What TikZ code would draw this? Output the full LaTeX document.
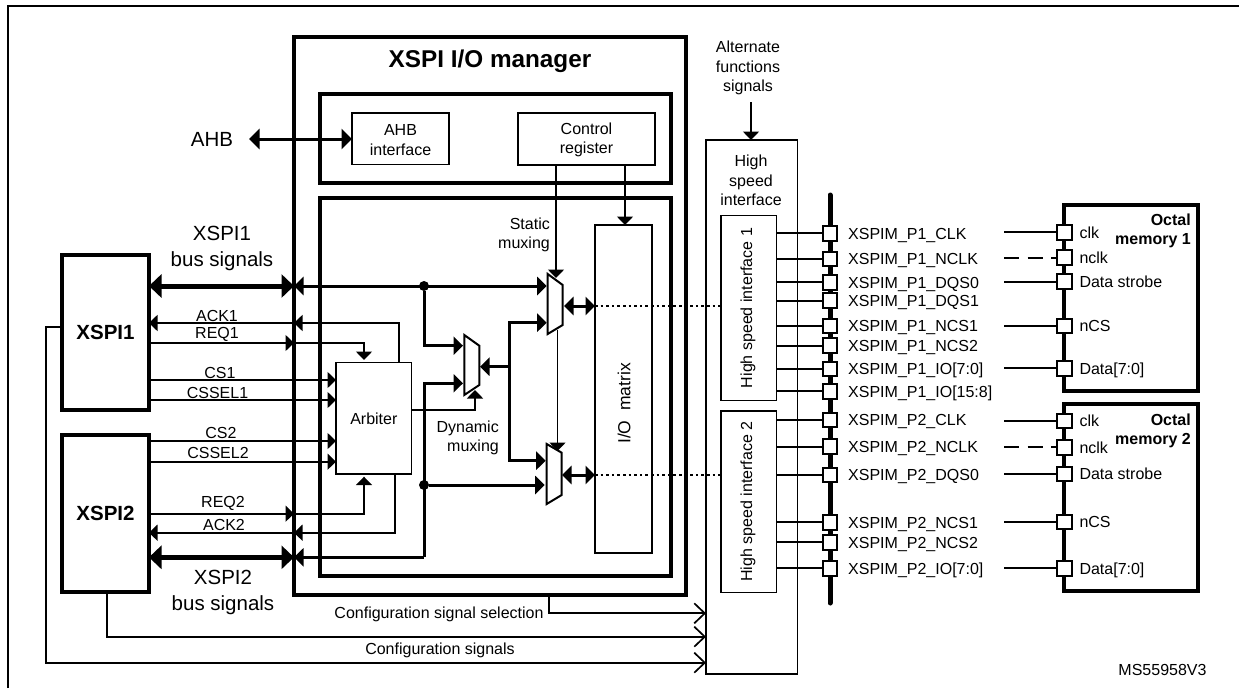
\documentclass[tikz,border=0pt]{standalone}
\usepackage{fontspec}
\setmainfont{Liberation Sans}
\usetikzlibrary{arrows.meta}

\tikzset{
  txt/.style={inner sep=0pt, font=\fontsize{16}{19.4}\selectfont, align=center},
  pintxt/.style={txt, anchor=west, text height=11.5pt, text depth=0pt},
  bigtxt/.style={inner sep=0pt, font=\fontsize{20.5}{25.5}\selectfont, align=center},
  thinbox/.style={draw, line width=1.5pt, inner sep=0pt, outer sep=0pt, rectangle},
  thickbox/.style={draw, line width=4pt, inner sep=0pt, outer sep=0pt, rectangle},
  pin/.style={draw, fill=white, line width=2pt, inner sep=0pt, outer sep=0pt, minimum size=14.5pt, rectangle},
  dot/.style={fill=black, circle, inner sep=0pt, outer sep=0pt, minimum size=10pt},
  wire/.style={line width=1.7pt},
  sig/.style={wire, ->, >={Triangle[length=8.5pt,width=16pt]}},
  med/.style={line width=3pt, ->, >={Triangle[length=9.5pt,width=18pt]}},
  bus/.style={line width=5pt, <->, >={Triangle[length=12.5pt,width=23pt]}},
  ahbarrow/.style={line width=3pt, <->, >={Triangle[length=10.5pt,width=20pt]}},
  cfg/.style={wire, ->, >={Straight Barb[length=10.5pt,width=20pt,line width=1.7pt]}},
  dots/.style={line width=1.8pt, dash pattern=on 2.6pt off 3pt}
}

\begin{document}
\begin{tikzpicture}[x=1pt,y=-1pt]
\useasboundingbox (0,0) rectangle (1239,688);

% ---------- Frame ----------
\coordinate (FrameLow) at (8,688);
\coordinate (FrameCnr) at (8,6);
\coordinate (FrameEnd) at (1239,6);
\draw[line width=2pt] (FrameLow) -- (FrameCnr) -- (FrameEnd);

% ---------- XSPI blocks ----------
\node[thickbox, minimum width=87pt, minimum height=155pt, font=\bfseries\fontsize{20.5}{25}\selectfont] (XspiOne) at (105.5,332.5) {XSPI1};
\node[thickbox, minimum width=87pt, minimum height=157pt, font=\bfseries\fontsize{20.5}{25}\selectfont] (XspiTwo) at (105.5,513.5) {XSPI2};

% ---------- Manager ----------
\node[thickbox, minimum width=391.7pt, minimum height=558pt] (Manager) at (489.85,316) {};
\node[inner sep=0pt, font=\bfseries\fontsize{24.3}{28}\selectfont] (ManagerTxt) at (490,61) {XSPI I/O manager};
\node[thickbox, minimum width=351pt, minimum height=89pt] (UpperBox) at (495.5,138.5) {};
\node[thickbox, minimum width=351pt, minimum height=378pt] (LowerBox) at (495.5,387) {};

\node[thinbox, minimum width=97pt, minimum height=51.5pt] (AhbIf) at (400.5,138.75) {};
\node[txt] (AhbIfTxt) at (400.5,140) {AHB\\interface};
\node[thinbox, minimum width=137pt, minimum height=52pt] (Control) at (586.5,139) {};
\node[txt] (ControlTxt) at (586.5,140) {Control\\register};
\node[thinbox, txt, minimum width=75.7pt, minimum height=111.3pt] (Arbiter) at (373.85,418.35) {Arbiter};
\node[thinbox, minimum width=57pt, minimum height=328pt] (IoMatrix) at (623.5,389) {};
\node[txt, font=\fontsize{17.5}{21}\selectfont, rotate=90] (IoMatrixTxt) at (624,403.5) {I/O\ \ matrix};

% ---------- AHB ----------
\node[inner sep=0pt, font=\fontsize{20.5}{25}\selectfont] (AhbTxt) at (212,139) {AHB};
\coordinate (AhbEnd) at (249,139);
\draw[ahbarrow] (AhbEnd) -- (AhbIf.west |- AhbEnd);

% ---------- Bus signals ----------
\node[bigtxt] (BusOneTxt) at (222,248.5) {XSPI1\\bus signals};
\node[bigtxt] (BusTwoTxt) at (223,592.5) {XSPI2\\bus signals};
\coordinate (BusOneY) at (0,286);
\coordinate (BusTwoCnr) at (424,557.3);
\draw[bus] (XspiOne.east |- BusOneY) -- (Manager.west |- BusOneY);
\draw[bus] (XspiTwo.east |- BusTwoCnr) -- (Manager.west |- BusTwoCnr);

% ---------- Arbiter signals ----------
\node[txt] (AckOneTxt) at (217,316) {ACK1};
\node[txt] (ReqOneTxt) at (217,334) {REQ1};
\node[txt] (CsOneTxt) at (220,373) {CS1};
\node[txt] (CsselOneTxt) at (217.5,393) {CSSEL1};
\node[txt] (CsTwoTxt) at (221,433) {CS2};
\node[txt] (CsselTwoTxt) at (218,453) {CSSEL2};
\node[txt] (ReqTwoTxt) at (223,503) {REQ2};
\node[txt] (AckTwoTxt) at (224,525) {ACK2};

\coordinate (AckOneCnr) at (399,323);
\coordinate (ReqOneCnr) at (364,343);
\coordinate (CsOneY) at (0,380);
\coordinate (CsselOneY) at (0,400);
\coordinate (CsTwoY) at (0,441);
\coordinate (CsselTwoY) at (0,461.7);
\coordinate (ReqTwoCnr) at (364,513.7);
\coordinate (AckTwoCnr) at (395,532.7);
\coordinate (ReqOneTip) at (364,360);
\coordinate (ReqTwoTip) at (364,476.7);

\draw[sig] (Arbiter.north -| AckOneCnr) -- (AckOneCnr) -- (Manager.west |- AckOneCnr);
\draw[sig] (Manager.west |- AckOneCnr) -- (XspiOne.east |- AckOneCnr);
\draw[sig] (XspiOne.east |- ReqOneCnr) -- (Manager.west |- ReqOneCnr);
\draw[sig] (Manager.west |- ReqOneCnr) -- (ReqOneCnr) -- (ReqOneTip);
\draw[sig] (XspiOne.east |- CsOneY) -- (Arbiter.west |- CsOneY);
\draw[sig] (XspiOne.east |- CsselOneY) -- (Arbiter.west |- CsselOneY);
\draw[sig] (XspiTwo.east |- CsTwoY) -- (Arbiter.west |- CsTwoY);
\draw[sig] (XspiTwo.east |- CsselTwoY) -- (Arbiter.west |- CsselTwoY);
\draw[sig] (XspiTwo.east |- ReqTwoCnr) -- (Manager.west |- ReqTwoCnr);
\draw[sig] (Manager.west |- ReqTwoCnr) -- (ReqTwoCnr) -- (ReqTwoTip);
\draw[sig] (Arbiter.south -| AckTwoCnr) -- (AckTwoCnr) -- (Manager.west |- AckTwoCnr);
\draw[sig] (Manager.west |- AckTwoCnr) -- (XspiTwo.east |- AckTwoCnr);

% ---------- Muxes ----------
\coordinate (MuxOneA) at (547.7,274);
\coordinate (MuxOneB) at (562.7,285);
\coordinate (MuxOneC) at (562.7,325);
\coordinate (MuxOneD) at (547.7,334);
\draw[line width=2pt] (MuxOneA) -- (MuxOneB) -- (MuxOneC) -- (MuxOneD) -- cycle;

\coordinate (MuxDynA) at (464.3,335);
\coordinate (MuxDynB) at (479.3,345.7);
\coordinate (MuxDynC) at (479.3,385);
\coordinate (MuxDynD) at (464.3,395);
\draw[line width=2pt] (MuxDynA) -- (MuxDynB) -- (MuxDynC) -- (MuxDynD) -- cycle;

\coordinate (MuxTwoA) at (546.7,444);
\coordinate (MuxTwoB) at (561.7,452.7);
\coordinate (MuxTwoC) at (561.7,495);
\coordinate (MuxTwoD) at (546.7,504);
\draw[line width=2pt] (MuxTwoA) -- (MuxTwoB) -- (MuxTwoC) -- (MuxTwoD) -- cycle;

\node[txt, align=right, anchor=east] (StaticTxt) at (550,235) {Static\\muxing};
\node[txt, align=right, anchor=east] (DynamicTxt) at (499,438) {Dynamic\\muxing};

% ---------- Mux wiring ----------
\node[dot] (JunOne) at (424,286) {};
\node[dot] (JunTwo) at (424,485) {};
\coordinate (MuxOneIn) at (546.7,286);
\coordinate (MuxOneInB) at (546.7,322.7);
\coordinate (MuxDynIn) at (463,345.7);
\coordinate (MuxDynInB) at (463,383.3);
\coordinate (MuxDynOut) at (480,366.7);
\coordinate (SplitCnr) at (509.3,366.7);
\coordinate (MuxTwoIn) at (545.7,460.7);
\coordinate (MuxTwoInB) at (544.7,485);
\coordinate (MuxDynSel) at (475,390);
\coordinate (DynCnr) at (475,410);
\coordinate (MuxOneSel) at (556,278);
\coordinate (MuxOneLow) at (557.5,330);
\coordinate (MuxTwoSel) at (557.5,451);
\coordinate (IoSel) at (625,225);

\draw[med, <->] (Manager.west |- JunOne) -- (MuxOneIn);
\draw[med, <-] (Manager.west |- BusTwoCnr) -- (BusTwoCnr);
\draw[med] (JunOne) |- (MuxDynIn);
\draw[med] (BusTwoCnr) |- (MuxDynInB);
\draw[med] (JunTwo) -- (MuxTwoInB);
\draw[med] (SplitCnr) -- (MuxDynOut);
\draw[med] (SplitCnr) |- (MuxOneInB);
\draw[med] (SplitCnr) |- (MuxTwoIn);
\draw[sig] (Arbiter.east |- DynCnr) -- (DynCnr) -- (MuxDynSel);
\draw[sig] (Control.south -| MuxOneSel) -- (MuxOneSel);
\draw[sig] (Control.south -| IoSel) -- (IoSel);
\draw[sig] (MuxOneLow) -- (MuxTwoSel);

% ---------- I/O matrix links ----------
\coordinate (MuxOneOut) at (564,306);
\coordinate (MuxTwoOut) at (562,475);
\draw[med, <->] (MuxOneOut) -- (IoMatrix.west |- MuxOneOut);
\draw[med, <->] (MuxTwoOut) -- (IoMatrix.west |- MuxTwoOut);

% ---------- High speed interface ----------
\node[thinbox, minimum width=91.7pt, minimum height=534pt] (Hss) at (751.85,407) {};
\node[txt] (HssTxt) at (751,180.5) {High\\speed\\interface};
\node[thinbox, minimum width=55.7pt, minimum height=185pt] (HsiOne) at (748.85,308.2) {};
\node[thinbox, minimum width=55.7pt, minimum height=181.7pt] (HsiTwo) at (748.85,501.85) {};
\node[txt, rotate=90] (HsiOneTxt) at (748,308) {High speed interface 1};
\node[txt, rotate=90] (HsiTwoTxt) at (748,501.5) {High speed interface 2};
\draw[dots] (IoMatrix.west |- MuxOneOut) -- (HsiOne.west |- MuxOneOut);
\draw[dots] (IoMatrix.west |- MuxTwoOut) -- (HsiTwo.west |- MuxTwoOut);

\node[txt] (AltTxt) at (748,68) {Alternate\\functions\\signals};
\coordinate (AltTop) at (751,102);
\draw[sig] (AltTop) -- (Hss.north -| AltTop);

% ---------- Configuration ----------
\coordinate (CfgSelCnr) at (548.7,613.3);
\coordinate (CfgTwoCnr) at (107,636.7);
\coordinate (CfgOneCnr) at (46,327);
\coordinate (CfgOneLow) at (46,662.7);
\draw[cfg] (Manager.south -| CfgSelCnr) -- (CfgSelCnr) -- (Hss.west |- CfgSelCnr);
\draw[cfg] (XspiTwo.south -| CfgTwoCnr) -- (CfgTwoCnr) -- (Hss.west |- CfgTwoCnr);
\draw[cfg] (XspiOne.west |- CfgOneCnr) -- (CfgOneCnr) -- (CfgOneLow) -- (Hss.west |- CfgOneLow);
\node[txt] (CfgSelTxt) at (439,614) {Configuration signal selection};
\node[txt] (CfgTxt) at (440,650) {Configuration signals};

% ---------- Pad bus ----------
\coordinate (PadTop) at (830,195);
\coordinate (PadLow) at (830,603);
\draw[line width=5pt, line cap=round] (PadTop) -- (PadLow);

% ---------- Port 1 pads ----------
\node[pin] (PadOneClk) at (830,233.3) {};
\node[pin] (PadOneNclk) at (830,259) {};
\node[pin] (PadOneDqsA) at (830,282.3) {};
\node[pin] (PadOneDqsB) at (830,300.7) {};
\node[pin] (PadOneNcsA) at (830,326) {};
\node[pin] (PadOneNcsB) at (830,345.7) {};
\node[pin] (PadOneIoA) at (830,369) {};
\node[pin] (PadOneIoB) at (830,391.3) {};

\draw[wire] (HsiOne.east |- PadOneClk) -- (PadOneClk);
\draw[wire] (HsiOne.east |- PadOneNclk) -- (PadOneNclk);
\draw[wire] (HsiOne.east |- PadOneDqsA) -- (PadOneDqsA);
\draw[wire] (HsiOne.east |- PadOneDqsB) -- (PadOneDqsB);
\draw[wire] (HsiOne.east |- PadOneNcsA) -- (PadOneNcsA);
\draw[wire] (HsiOne.east |- PadOneNcsB) -- (PadOneNcsB);
\draw[wire] (HsiOne.east |- PadOneIoA) -- (PadOneIoA);
\draw[wire] (HsiOne.east |- PadOneIoB) -- (PadOneIoB);

\node[pintxt] (PadOneClkTxt) at (848,233.3) {XSPIM\_P1\_CLK};
\node[pintxt] (PadOneNclkTxt) at (848,259) {XSPIM\_P1\_NCLK};
\node[pintxt] (PadOneDqsATxt) at (848,282.3) {XSPIM\_P1\_DQS0};
\node[pintxt] (PadOneDqsBTxt) at (848,300.7) {XSPIM\_P1\_DQS1};
\node[pintxt] (PadOneNcsATxt) at (848,326) {XSPIM\_P1\_NCS1};
\node[pintxt] (PadOneNcsBTxt) at (848,345.7) {XSPIM\_P1\_NCS2};
\node[pintxt] (PadOneIoATxt) at (848,369) {XSPIM\_P1\_IO[7:0]};
\node[pintxt] (PadOneIoBTxt) at (848,391.3) {XSPIM\_P1\_IO[15:8]};

% ---------- Port 2 pads ----------
\node[pin] (PadTwoClk) at (830,420) {};
\node[pin] (PadTwoNclk) at (830,446.7) {};
\node[pin] (PadTwoDqs) at (830,475) {};
\node[pin] (PadTwoNcsA) at (830,522.3) {};
\node[pin] (PadTwoNcsB) at (830,542.3) {};
\node[pin] (PadTwoIo) at (830,568.3) {};

\draw[wire] (HsiTwo.east |- PadTwoClk) -- (PadTwoClk);
\draw[wire] (HsiTwo.east |- PadTwoNclk) -- (PadTwoNclk);
\draw[wire] (HsiTwo.east |- PadTwoDqs) -- (PadTwoDqs);
\draw[wire] (HsiTwo.east |- PadTwoNcsA) -- (PadTwoNcsA);
\draw[wire] (HsiTwo.east |- PadTwoNcsB) -- (PadTwoNcsB);
\draw[wire] (HsiTwo.east |- PadTwoIo) -- (PadTwoIo);

\node[pintxt] (PadTwoClkTxt) at (848,420) {XSPIM\_P2\_CLK};
\node[pintxt] (PadTwoNclkTxt) at (848,446.7) {XSPIM\_P2\_NCLK};
\node[pintxt] (PadTwoDqsTxt) at (848,475) {XSPIM\_P2\_DQS0};
\node[pintxt] (PadTwoNcsATxt) at (848,522.3) {XSPIM\_P2\_NCS1};
\node[pintxt] (PadTwoNcsBTxt) at (848,542.3) {XSPIM\_P2\_NCS2};
\node[pintxt] (PadTwoIoTxt) at (848,568.3) {XSPIM\_P2\_IO[7:0]};

% ---------- Octal memory 1 ----------
\node[thickbox, minimum width=134pt, minimum height=186.3pt] (MemOne) at (1131,298.15) {};
\node[inner sep=0pt, anchor=north east, align=right, font=\bfseries\fontsize{16}{19}\selectfont] (MemOneTxt) at (1191,214) {Octal\\memory 1};

\node[pin] (MemOneClk) at (1064.3,232.3) {};
\node[pin] (MemOneNclk) at (1064.3,257.7) {};
\node[pin] (MemOneDqs) at (1064.3,281.7) {};
\node[pin] (MemOneNcs) at (1064.3,326) {};
\node[pin] (MemOneData) at (1064.3,368.3) {};

\coordinate (MemOneLeft) at (1004,232.3);
\draw[wire] (MemOneLeft) -- (MemOneClk);
\draw[wire, dash pattern=on 15pt off 8.5pt] (MemOneLeft |- MemOneNclk) -- (MemOneNclk);
\draw[wire] (MemOneLeft |- MemOneDqs) -- (MemOneDqs);
\draw[wire] (MemOneLeft |- MemOneNcs) -- (MemOneNcs);
\draw[wire] (MemOneLeft |- MemOneData) -- (MemOneData);

\node[pintxt] (MemOneClkTxt) at (1079.3,232.3) {clk};
\node[pintxt] (MemOneNclkTxt) at (1079.3,257.7) {nclk};
\node[pintxt] (MemOneDqsTxt) at (1079.3,281.7) {Data strobe};
\node[pintxt] (MemOneNcsTxt) at (1079.3,326) {nCS};
\node[pintxt] (MemOneDataTxt) at (1079.3,368.3) {Data[7:0]};

% ---------- Octal memory 2 ----------
\node[thickbox, minimum width=134pt, minimum height=186.4pt] (MemTwo) at (1131,497.5) {};
\node[inner sep=0pt, anchor=north east, align=right, font=\bfseries\fontsize{16}{19}\selectfont] (MemTwoTxt) at (1191,414) {Octal\\memory 2};

\node[pin] (MemTwoClk) at (1064.3,421) {};
\node[pin] (MemTwoNclk) at (1064.3,447.3) {};
\node[pin] (MemTwoDqs) at (1064.3,474) {};
\node[pin] (MemTwoNcs) at (1064.3,522) {};
\node[pin] (MemTwoData) at (1064.3,568.3) {};

\coordinate (MemTwoLeft) at (1004,421);
\draw[wire] (MemTwoLeft) -- (MemTwoClk);
\draw[wire, dash pattern=on 15pt off 8.5pt] (MemTwoLeft |- MemTwoNclk) -- (MemTwoNclk);
\draw[wire] (MemTwoLeft |- MemTwoDqs) -- (MemTwoDqs);
\draw[wire] (MemTwoLeft |- MemTwoNcs) -- (MemTwoNcs);
\draw[wire] (MemTwoLeft |- MemTwoData) -- (MemTwoData);

\node[pintxt] (MemTwoClkTxt) at (1079.3,421) {clk};
\node[pintxt] (MemTwoNclkTxt) at (1079.3,447.3) {nclk};
\node[pintxt] (MemTwoDqsTxt) at (1079.3,474) {Data strobe};
\node[pintxt] (MemTwoNcsTxt) at (1079.3,522) {nCS};
\node[pintxt] (MemTwoDataTxt) at (1079.3,568.3) {Data[7:0]};

\node[txt] (RefTxt) at (1162.5,670) {MS55958V3};

\end{tikzpicture}
\end{document}
